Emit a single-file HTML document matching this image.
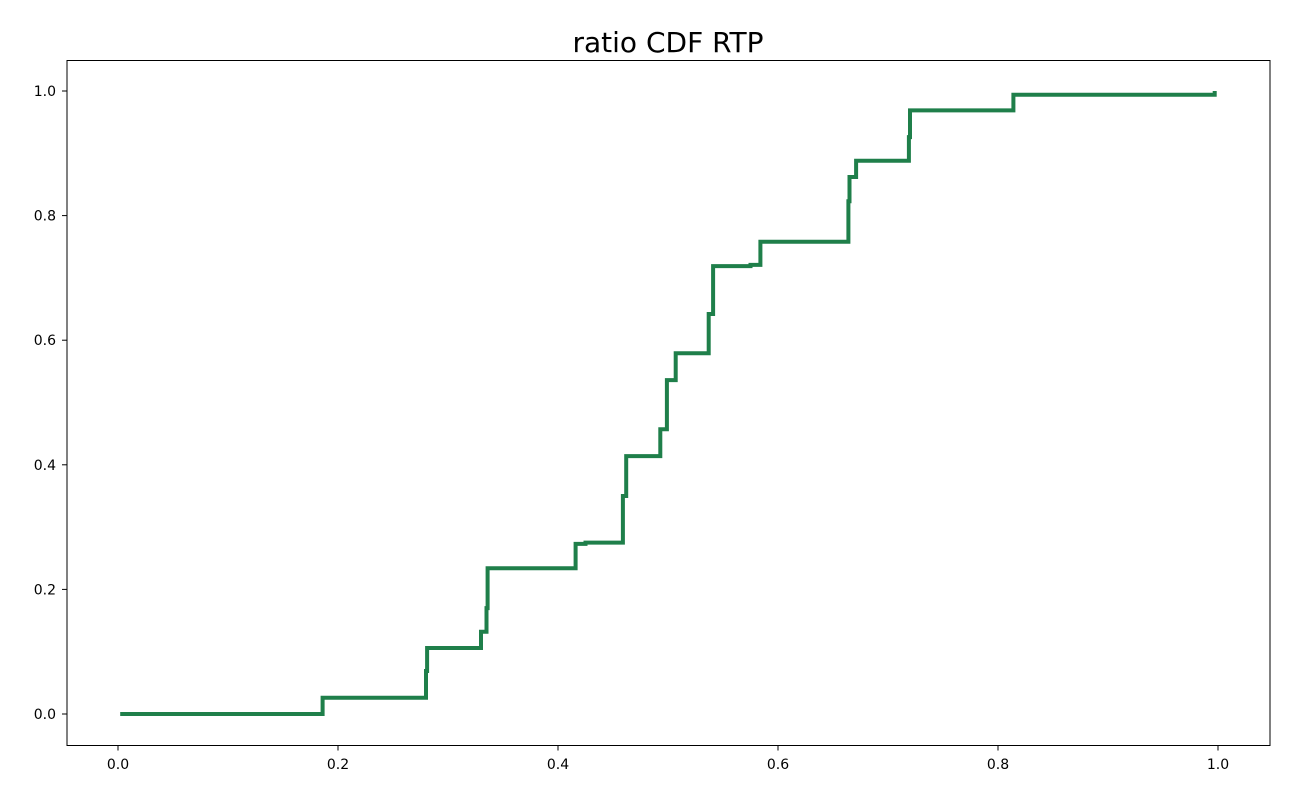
<!DOCTYPE html>
<html><head><meta charset="utf-8"><style>
body{margin:0;background:#fff;font-family:"DejaVu Sans","Liberation Sans",sans-serif}
</style></head><body>
<svg id="chart" width="1300" height="800" font-family="DejaVu Sans, Liberation Sans, sans-serif">
<text x="668" y="52" text-anchor="middle" font-size="28">ratio CDF RTP</text>
<rect x="67" y="60.5" width="1203" height="685" fill="none" stroke="#000" stroke-width="1"/>
<g id="xt"></g><g id="yt"></g><path id="line" fill="none" stroke="#1f7f4a" stroke-width="4"/>
</svg>
<script>
const xSteps=[0.002,0.186,0.280,0.281,0.330,0.335,0.336,0.416,0.425,0.459,0.462,0.493,0.499,0.507,0.537,0.541,0.575,0.584,0.664,0.665,0.671,0.719,0.720,0.814,0.997];
const ySteps=[0,0.026,0.069,0.106,0.132,0.170,0.234,0.273,0.275,0.350,0.414,0.457,0.536,0.579,0.642,0.719,0.721,0.758,0.823,0.862,0.888,0.926,0.969,0.994,1.0];
const xTicks=[0,0.2,0.4,0.6,0.8,1.0];
const yTicks=[0,0.2,0.4,0.6,0.8,1.0];
const X=v=>118+v*1100, Y=v=>714-v*623;
const ns="http://www.w3.org/2000/svg";
const xt=document.getElementById('xt'), yt=document.getElementById('yt');
xTicks.forEach(t=>{
 const l=document.createElementNS(ns,'line');
 l.setAttribute('x1',X(t));l.setAttribute('x2',X(t));l.setAttribute('y1',745.5);l.setAttribute('y2',750.5);l.setAttribute('stroke','#000');
 
 
 xt.appendChild(l);
 const s=document.createElementNS(ns,'text');
 s.setAttribute('x',X(t));s.setAttribute('y',769);s.setAttribute('text-anchor','middle');s.setAttribute('font-size','14');
 s.textContent=t.toFixed(1);
 
 
 xt.appendChild(s);
});
yTicks.forEach(t=>{
 const l=document.createElementNS(ns,'line');
 l.setAttribute('x1',62);l.setAttribute('x2',67);l.setAttribute('y1',Y(t));l.setAttribute('y2',Y(t));l.setAttribute('stroke','#000');
 
 
 yt.appendChild(l);
 const s=document.createElementNS(ns,'text');
 s.setAttribute('x',56);s.setAttribute('y',Y(t)+5);s.setAttribute('text-anchor','end');s.setAttribute('font-size','14');
 s.textContent=t.toFixed(1);
 
 
 yt.appendChild(s);
});
let d='M'+X(xSteps[0])+','+Y(0);
for(let i=0;i<xSteps.length;i++){
 d+=' L'+X(xSteps[i])+','+Y(i?ySteps[i-1]:0)+' L'+X(xSteps[i])+','+Y(ySteps[i]);
}
document.getElementById('line').setAttribute('d',d);
</script>
</body></html>
